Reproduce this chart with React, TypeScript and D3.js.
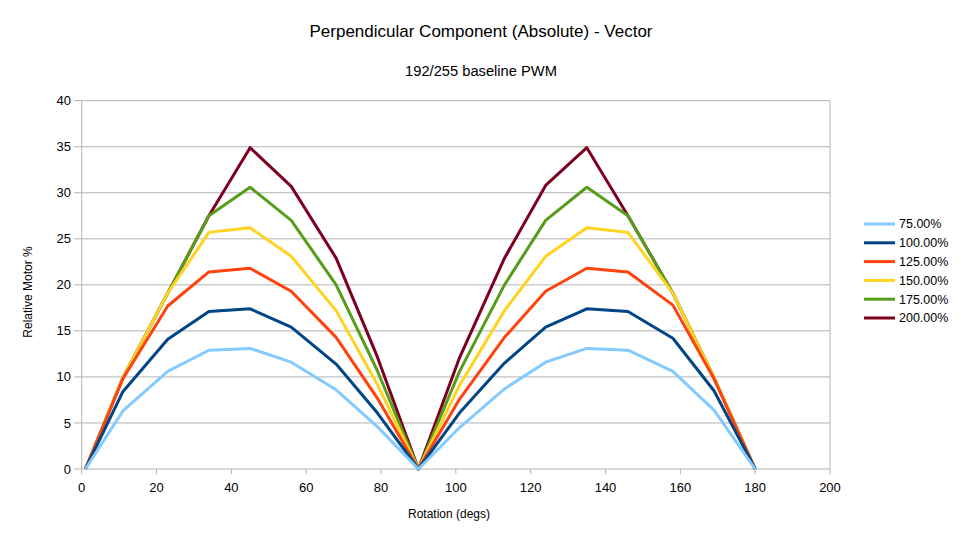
import { useEffect } from 'react';
import * as d3 from 'd3';

// rotation angle (degrees) of each sample
const rotation = [1, 11, 23, 34, 45, 56, 68, 79, 90, 101, 113, 124, 135, 146, 158, 169, 180];

const seriesNames = ['75.00%', '100.00%', '125.00%', '150.00%', '175.00%', '200.00%'];
const seriesColors = ['#83caff', '#004586', '#ff420e', '#ffd320', '#579d1c', '#7e0021'];

const s75 = [0, 6.3, 10.6, 12.9, 13.1, 11.6, 8.6, 4.6, 0, 4.5, 8.7, 11.6, 13.1, 12.9, 10.6, 6.4, 0];
const s100 = [0, 8.4, 14.1, 17.1, 17.4, 15.4, 11.4, 6.1, 0, 6.1, 11.5, 15.4, 17.4, 17.1, 14.2, 8.5, 0];
const s125 = [0, 9.8, 17.7, 21.4, 21.8, 19.3, 14.3, 7.7, 0, 7.6, 14.3, 19.3, 21.8, 21.4, 17.8, 9.8, 0];
const s150 = [0, 9.9, 19.1, 25.7, 26.2, 23.1, 17.2, 9.2, 0, 9.1, 17.2, 23.1, 26.2, 25.7, 19.1, 9.9, 0];
const s175 = [0, 9.9, 19.1, 27.5, 30.6, 27.0, 20.0, 10.7, 0, 10.6, 20.0, 27.0, 30.6, 27.5, 19.1, 9.9, 0];
const s200 = [0, 9.9, 19.1, 27.5, 34.9, 30.7, 22.9, 12.2, 0, 12.1, 22.9, 30.8, 34.9, 27.5, 19.1, 9.9, 0];
const seriesValues = [s75, s100, s125, s150, s175, s200];

const xTicks = [0, 20, 40, 60, 80, 100, 120, 140, 160, 180, 200];
const yTicks = [0, 5, 10, 15, 20, 25, 30, 35, 40];

const W = 963;
const H = 542;
const FONT = '"Liberation Sans", Arial, sans-serif';
const GRID = '#b3b3b3';

export default function App() {
  useEffect(() => {
    document.body.style.margin = '0';
  }, []);

  const x = d3.scaleLinear().domain([0, 200]).range([81.7, 830]);
  const y = d3.scaleLinear().domain([0, 40]).range([469, 100.7]);

  const line = d3.line<number>()
    .x((_, i) => x(rotation[i]))
    .y(d => y(d));

  // earlier series are painted on top, as in the source chart
  const drawOrder = d3.range(seriesValues.length).reverse();

  return (
    <svg width={W} height={H} style={{ display: 'block', background: '#fff' }} fontFamily={FONT}>
      <text x={481} y={37} textAnchor="middle" fontSize={17} fill="#000">
        Perpendicular Component (Absolute) - Vector
      </text>
      <text x={481} y={76} textAnchor="middle" fontSize={14.7} fill="#000">
        192/255 baseline PWM
      </text>

      {/* grid */}
      {yTicks.map(t => (
        <g key={t}>
          <line x1={74} x2={x(200)} y1={y(t)} y2={y(t)} stroke={GRID} strokeWidth={1} />
          <text x={71} y={y(t)} dy="0.35em" textAnchor="end" fontSize={13} fill="#000">{t}</text>
        </g>
      ))}
      <line x1={x(0)} x2={x(0)} y1={y(40)} y2={y(0)} stroke={GRID} strokeWidth={1} />
      <line x1={x(200)} x2={x(200)} y1={y(40)} y2={y(0)} stroke={GRID} strokeWidth={1} />
      {xTicks.map(t => (
        <g key={t}>
          <line x1={x(t)} x2={x(t)} y1={y(0)} y2={y(0) + 5} stroke={GRID} strokeWidth={1} />
          <text x={x(t)} y={492} textAnchor="middle" fontSize={13} fill="#000">{t}</text>
        </g>
      ))}

      {/* series */}
      {drawOrder.map(i => (
        <path key={seriesNames[i]} d={line(seriesValues[i]) ?? ''} fill="none"
          stroke={seriesColors[i]} strokeWidth={3} strokeLinejoin="round" />
      ))}

      <text x={449} y={518} textAnchor="middle" fontSize={12} fill="#000">Rotation (degs)</text>
      <text transform="translate(28,292) rotate(-90)" textAnchor="middle" dy="0.35em" fontSize={12} fill="#000">
        Relative Motor %
      </text>

      {/* legend */}
      {seriesNames.map((name, i) => {
        const ly = 224 + i * 18.8;
        return (
          <g key={name}>
            <line x1={864} x2={895} y1={ly} y2={ly} stroke={seriesColors[i]} strokeWidth={3} />
            <text x={899} y={ly} dy="0.35em" fontSize={12.5} fill="#000">{name}</text>
          </g>
        );
      })}
    </svg>
  );
}
